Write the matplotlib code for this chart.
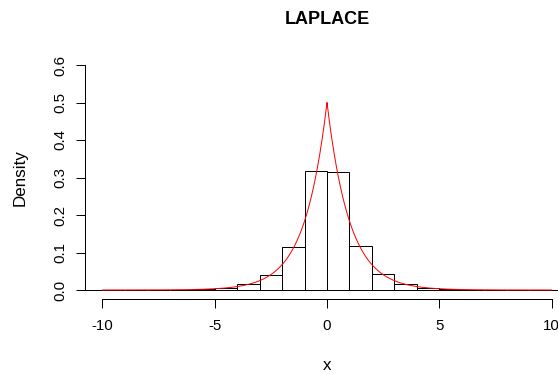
import numpy as np
import matplotlib
matplotlib.use("Agg")
import matplotlib.pyplot as plt

# histogram of laplace sample (density scale), bins of width 1
bin_edges = [-12, -11, -10, -9, -8, -7, -6, -5, -4, -3, -2, -1, 0,
             1, 2, 3, 4, 5, 6, 7, 8, 9, 10, 11, 12]
bin_density = [0.0, 0.0, 0.0001, 0.0001, 0.0003, 0.0008, 0.0022, 0.006,
               0.017, 0.041, 0.114, 0.318, 0.314, 0.117, 0.043, 0.016,
               0.006, 0.0022, 0.0008, 0.0003, 0.0001, 0.0001, 0.0, 0.0]

# theoretical laplace density parameters
loc = 0.0
scale = 1.0
curve_from, curve_to = -10, 10

x_ticks = [-10, -5, 0, 5, 10]
y_ticks = [0.0, 0.1, 0.2, 0.3, 0.4, 0.5, 0.6]

plt.rcParams['font.family'] = ['Liberation Sans', 'DejaVu Sans']

W, H = 558, 374
fig = plt.figure(figsize=(W / 72, H / 72), dpi=72)
# plot region in pixels (R style, xlim -10..10, ylim 0..0.6 with 4% padding)
left, right, top, bottom = 84.5, 569.5, 56, 299
ax = fig.add_axes([left / W, 1 - bottom / H, (right - left) / W, (bottom - top) / H])

ax.bar(bin_edges[:-1], bin_density, width=1, align='edge',
       facecolor='none', edgecolor='black', linewidth=1)

xs = np.linspace(curve_from, curve_to, 1001)
ys = np.exp(-np.abs(xs - loc) / scale) / (2 * scale)
ax.plot(xs, ys, color='red', linewidth=1)

ax.set_xlim(-10.8, 10.8)
ax.set_ylim(-0.024, 0.624)

for s in ['top', 'right']:
    ax.spines[s].set_visible(False)
ax.spines['left'].set_bounds(0, 0.6)
ax.spines['bottom'].set_bounds(-10, 10)
ax.spines['left'].set_linewidth(1)
ax.spines['bottom'].set_linewidth(1)

ax.set_xticks(x_ticks)
ax.set_xticklabels([str(t) for t in x_ticks])
ax.set_yticks(y_ticks)
ax.set_yticklabels(['%.1f' % t for t in y_ticks], rotation=90, va='center')
ax.tick_params(axis='both', direction='out', length=9, width=1, labelsize=15)
ax.tick_params(axis='x', pad=11)
ax.tick_params(axis='y', pad=8)

fig.text(327 / W, 1 - 19 / H, 'LAPLACE', ha='center', va='center',
         fontsize=18, fontweight='bold')
fig.text(327 / W, 1 - 366 / H, 'x', ha='center', va='center', fontsize=17)
fig.text(20 / W, 1 - 177.5 / H, 'Density', ha='center', va='center',
         fontsize=17, rotation=90)

fig.savefig('out.png', dpi=72)
